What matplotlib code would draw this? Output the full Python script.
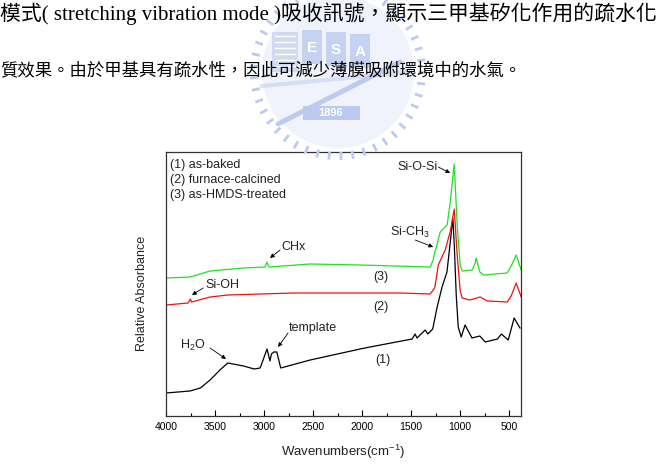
import numpy as np
import matplotlib
matplotlib.use('Agg')
import matplotlib.pyplot as plt
from matplotlib.patches import Circle, Rectangle
from matplotlib.ticker import MultipleLocator

plt.rcParams['font.family'] = ['Liberation Sans', 'DejaVu Sans']
plt.rcParams['mathtext.default'] = 'regular'

# page text above the figure
line1 = '模式( stretching vibration mode )吸收訊號，顯示三甲基矽化作用的疏水化'
line2 = '質效果。由於甲基具有疏水性，因此可減少薄膜吸附環境中的水氣。'

# FTIR spectra: wavenumber (cm-1) / relative absorbance (arb.)
wn_baked = [4000, 3755, 3650, 3550, 3450, 3370, 3210, 3100, 3040, 3010, 2970, 2940,
            2925, 2900, 2870, 2830, 2530, 2020, 1920, 1490, 1460, 1440, 1357, 1330,
            1280, 1235, 1185, 1135, 1100, 1075, 1060, 1040, 1020, 990, 950, 880, 800,
            745, 620, 580, 510, 450, 390]
ab_baked = [23, 25, 28, 36, 46, 53, 50, 47, 48, 56, 67, 55,
            62, 64, 64, 48, 56, 67, 69, 77, 82, 78, 86, 82,
            87, 109, 129, 144, 175, 198, 170, 120, 89, 79, 91, 78, 80,
            74, 77, 82, 76, 98, 88]

wn_calc = [4000, 3775, 3750, 3740, 3700, 3550, 3370, 2700, 2020, 1610, 1306, 1260,
           1235, 1224, 1153, 1100, 1061, 1030, 1000, 980, 900, 796, 724, 520, 480,
           429, 378]
ab_calc = [111, 113, 117, 114, 115, 119, 121, 123, 123, 123, 122, 128,
           143, 151, 166, 185, 207, 160, 125, 118, 116, 119, 115, 114, 120,
           133, 119]

wn_hmds = [4000, 3755, 3550, 3210, 2990, 2970, 2950, 2530, 2020, 1306, 1276, 1255,
           1245, 1204, 1133, 1100, 1061, 1030, 1000, 980, 878, 850, 837, 800, 760,
           520, 480, 429, 378]
ab_hmds = [138, 139, 145, 148, 149, 154, 149, 152, 151, 149, 156, 166,
           168, 184, 191, 215, 252, 190, 151, 145, 146, 152, 158, 144, 141,
           143, 150, 161, 146]

legend_lines = ['(1) as-baked', '(2) furnace-calcined', '(3) as-HMDS-treated']

fig = plt.figure(figsize=(6.57, 4.68), dpi=100)

# faint watermark logo, drawn in page pixel coordinates
bg = fig.add_axes([0, 0, 1, 1], zorder=5)
bg.set_xlim(0, 657)
bg.set_ylim(468, 0)
bg.axis('off')
bg.patch.set_alpha(0)
cx, cy = 338, 72
logo = '#bccaf0'
pale = '#f0f3fb'
bg.add_patch(Circle((cx, cy), 76, color=pale, lw=0, zorder=1))
for a in np.arange(0, 360, 8):
    t = np.radians(a)
    bg.plot([cx + 80 * np.cos(t), cx + 88 * np.cos(t)],
            [cy + 80 * np.sin(t), cy + 88 * np.sin(t)],
            color=logo, lw=2.0, solid_capstyle='butt', zorder=2)
bg.add_patch(Rectangle((272, 32), 26, 40, color=logo, alpha=0.6, lw=0, zorder=2))
for yy in range(36, 70, 6):
    bg.plot([275, 295], [yy, yy], color='white', lw=1, zorder=3)
for i, ch in enumerate('ESA'):
    bg.add_patch(Rectangle((302 + i * 24, 30 + i * 2), 20, 34, color=logo, alpha=0.8,
                           lw=0, zorder=2))
    bg.text(312 + i * 24, 48 + i * 2, ch, color='white', fontsize=11, ha='center',
            va='center', zorder=3, fontweight='bold')
bg.plot([262, 410], [86, 72], color=logo, lw=3, alpha=0.5, zorder=2)
bg.plot([278, 400], [124, 62], color=logo, lw=3.5, solid_capstyle='round', zorder=3)
bg.add_patch(Rectangle((303, 106), 57, 14, color=logo, lw=0, zorder=3))
bg.text(331, 113, '1896', color='white', fontsize=8, ha='center', va='center',
        fontweight='bold', zorder=4)

bg.text(0, 14, line1, fontsize=15, va='center', ha='left', zorder=6,
        family=['Liberation Serif', 'Noto Sans CJK TC'])
bg.text(0, 72, line2, fontsize=12.5, va='center', ha='left', zorder=6,
        family=['Liberation Serif', 'Noto Sans CJK TC'])

ax = fig.add_axes([166 / 657, 1 - 416 / 468, 355 / 657, 264 / 468], zorder=2)
ax.plot(wn_baked, ab_baked, color='black', lw=0.9)
ax.plot(wn_calc, ab_calc, color='#ee1111', lw=0.9)
ax.plot(wn_hmds, ab_hmds, color='#22e022', lw=0.9)
ax.set_xlim(4000, 380)
ax.set_ylim(0, 264)

ax.xaxis.set_major_locator(MultipleLocator(500))
ax.xaxis.set_minor_locator(MultipleLocator(250))
ax.tick_params(axis='x', which='major', direction='in', length=4, width=0.8,
               labelsize=7.5, pad=4)
ax.tick_params(axis='x', which='minor', direction='in', length=2, width=0.8)
ax.set_yticks([])
for s in ax.spines.values():
    s.set_linewidth(0.9)
    s.set_color('#333333')

ax.text(0.5, -0.136, 'Wavenumbers(cm$^{-1}$)', transform=ax.transAxes,
        ha='center', va='center', fontsize=9.5, color='#222222')
ax.text(-0.068, 0.466, 'Relative Absorbance', transform=ax.transAxes, rotation=90,
        ha='center', va='center', fontsize=9, color='#222222')

for i, t in enumerate(legend_lines):
    ax.text(0.012, 0.951 - i * 0.057, t, transform=ax.transAxes, ha='left',
            va='center', fontsize=9, color='#222222')

labels = [('Si-O-Si', 1439, 249), ('Si-CH$_3$', 1510, 184), ('CHx', 2704, 169),
          ('(3)', 1806, 139), ('Si-OH', 3429, 131), ('(2)', 1806, 109),
          ('template', 2500, 88), ('H$_2$O', 3724, 71), ('(1)', 1786, 56)]
for t, x, y in labels:
    ax.text(x, y, t, ha='center', va='center', fontsize=9, color='#222222')

arrows = [((1224, 249), (1102, 243)), ((1459, 176), (1276, 169)),
          ((2837, 166), (2939, 158)), ((3622, 128), (3735, 121)),
          ((2755, 83), (2857, 69)), ((3551, 68), (3388, 57))]
for tail, tip in arrows:
    ax.annotate('', xy=tip, xytext=tail,
                arrowprops=dict(arrowstyle='-|>', mutation_scale=6, lw=0.6,
                                color='black', shrinkA=0, shrinkB=0))

fig.savefig('out.png', dpi=100)
